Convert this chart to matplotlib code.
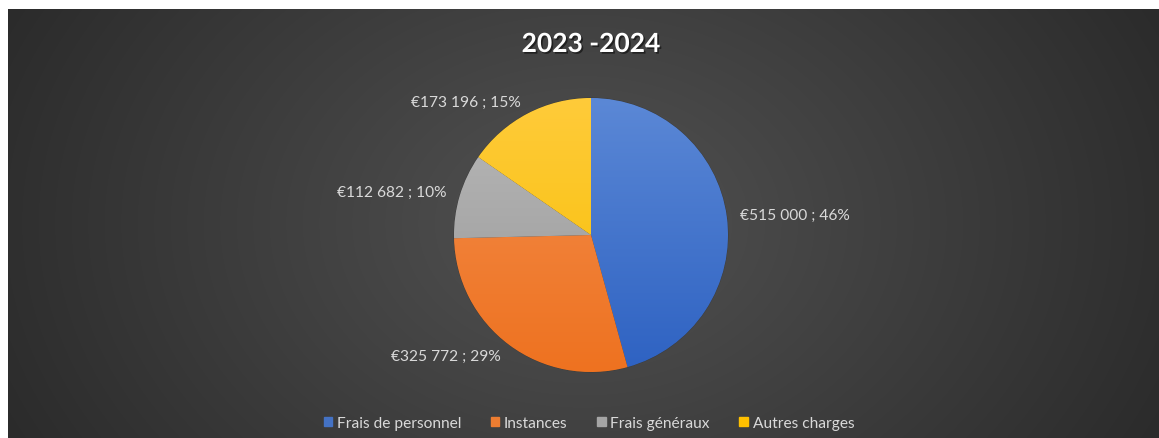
import numpy as np
import matplotlib
matplotlib.use("Agg")
import matplotlib.pyplot as plt
import matplotlib.patheffects as pe
from matplotlib.colors import LinearSegmentedColormap

categories = ["Frais de personnel", "Instances", "Frais généraux", "Autres charges"]
values = [515000, 325772, 112682, 173196]
title = "2023 -2024"

colors = ["#4472C4", "#ED7D31", "#A5A5A5", "#FFC000"]
light = ["#5B88D6", "#F38E4E", "#B9B9B9", "#FFCB3A"]
dark = ["#2E62C2", "#EE7220", "#969696", "#F6BE00"]

plt.rcParams["font.family"] = ["Lato", "DejaVu Sans"]

W, H = 1159, 439
fig = plt.figure(figsize=(W / 100, H / 100), dpi=100, facecolor="white")

# dark radial background (Excel style)
bg = fig.add_axes([8 / W, 0, 1 - 8 / W, 1 - 10 / H])
yy, xx = np.mgrid[-1:1:300j, -1:1:800j]
d = np.clip(np.sqrt((xx * 1.0) ** 2 + (yy * 0.5) ** 2) / 1.12, 0, 1)
c_in, c_out = 0x52 / 255, 0x2b / 255
img = c_in + (c_out - c_in) * d
bg.imshow(np.dstack([img] * 3), aspect="auto", extent=[0, 1, 0, 1],
          interpolation="bilinear")
bg.set_axis_off()

# pie
cx, cy, r = 591, 236, 137
ax = fig.add_axes([(cx - r) / W, (H - cy - r) / H, 2 * r / W, 2 * r / H])
total = sum(values)
labels = [f"€{v:,.0f}".replace(",", " ") + f" ; {round(100 * v / total):.0f}%"
          for v in values]
wedges, texts = ax.pie(values, colors=colors, startangle=90, counterclock=False,
                       labels=labels, labeldistance=1.1, radius=1.0,
                       wedgeprops=dict(edgecolor="#3a3a3a", linewidth=0.6),
                       textprops=dict(color="#D9D9D9", fontsize=11.2))
for w, lo, hi in zip(wedges, light, dark):
    cmap = LinearSegmentedColormap.from_list("g", [hi, lo])
    grad = np.linspace(0, 1, 256).reshape(-1, 1)
    im = ax.imshow(grad, cmap=cmap, extent=[-1, 1, -1, 1], origin="lower",
                   aspect="auto", zorder=w.get_zorder() + 0.1)
    im.set_clip_path(w)
ax.set_xlim(-1, 1)
ax.set_ylim(-1, 1)
ax.set_axis_off()

fig.text(cx / W, 1 - 45 / H, title, ha="center", va="center", fontsize=19,
         fontweight="bold", color="white",
         path_effects=[pe.withSimplePatchShadow(offset=(1.2, -1.2),
                                                shadow_rgbFace="black", alpha=0.5)])

handles = [plt.Rectangle((0, 0), 1, 1, color=c) for c in colors]
leg = fig.legend(handles, categories, loc="center", bbox_to_anchor=(589 / W, 1 - 424 / H),
                 ncol=4, frameon=False, fontsize=11.2, handlelength=0.55,
                 handleheight=0.6, handletextpad=0.3, columnspacing=1.9)
for t in leg.get_texts():
    t.set_color("#D9D9D9")

fig.savefig("out.png", dpi=100, facecolor="white")
